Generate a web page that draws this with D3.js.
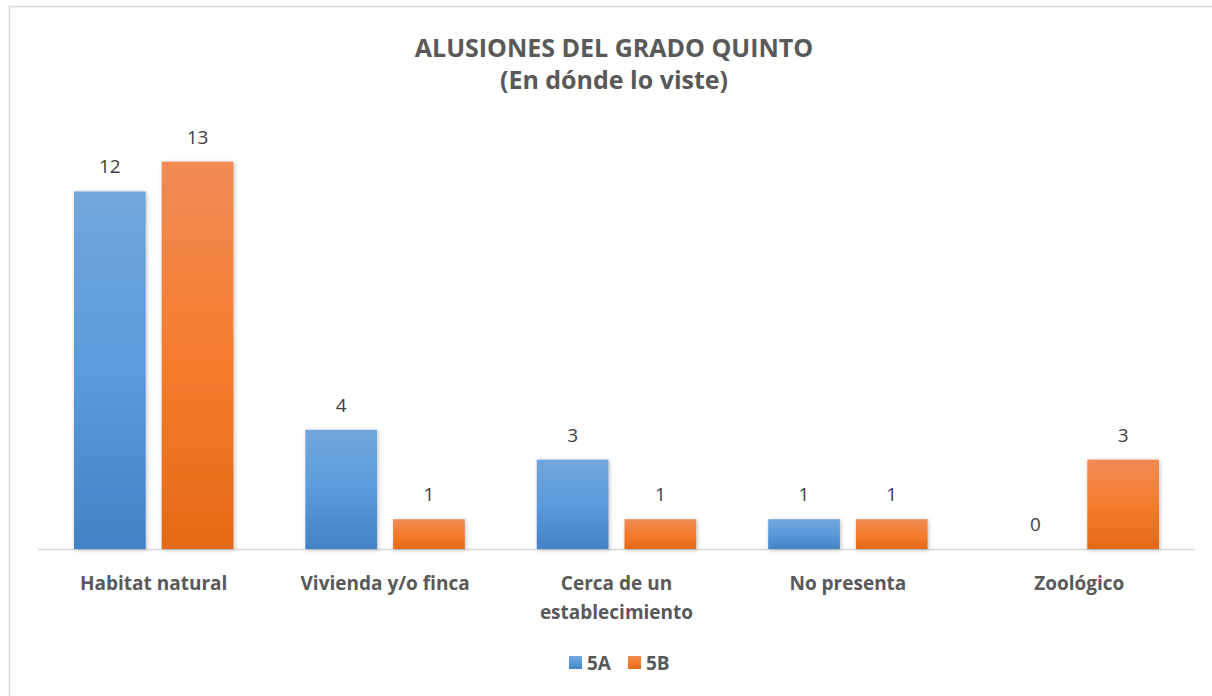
<!DOCTYPE html>
<html>
<head>
<meta charset="utf-8">
<script src="https://cdn.jsdelivr.net/npm/d3@7"></script>
<style>
  body { margin: 0; background: #fff; }
  text { font-family: "Open Sans", "Liberation Sans", sans-serif; }
</style>
</head>
<body>
<script>
// datos
var categories = ["Habitat natural", "Vivienda y/o finca", "Cerca de un establecimiento", "No presenta", "Zoológico"];
var series = ["5A", "5B"];
var values5A = [12, 4, 3, 1, 0];
var values5B = [13, 1, 1, 1, 3];
var titleLines = ["ALUSIONES DEL GRADO QUINTO", "(En dónde lo viste)"];

var width = 1212, height = 696;
var plot = {left: 38, right: 1195, bottom: 549};

var colors = {
  "5A": ["#71a7dc", "#5a9bdb", "#4283c5"],
  "5B": ["#f08b56", "#f47d2d", "#e46915"]
};

var data = categories.map(function(c, i) {
  return {cat: c, "5A": values5A[i], "5B": values5B[i]};
});

var svg = d3.select("body").append("svg")
  .attr("width", width)
  .attr("height", height);

var defs = svg.append("defs");
series.forEach(function(s) {
  var g = defs.append("linearGradient")
    .attr("id", "grad" + s)
    .attr("x1", 0).attr("y1", 0).attr("x2", 0).attr("y2", 1);
  colors[s].forEach(function(c, i) {
    g.append("stop").attr("offset", (i * 50) + "%").attr("stop-color", c);
  });
});
var shadow = defs.append("filter").attr("id", "shadow")
  .attr("x", "-20%").attr("y", "-20%").attr("width", "140%").attr("height", "140%");
shadow.append("feDropShadow")
  .attr("dx", 1).attr("dy", 1).attr("stdDeviation", 2)
  .attr("flood-color", "#000").attr("flood-opacity", 0.25);

// marco del grafico
svg.append("rect")
  .attr("x", 9.5).attr("y", 6.5)
  .attr("width", 1240).attr("height", 720)
  .attr("fill", "none")
  .attr("stroke", "#d9d9d9")
  .attr("stroke-width", 1.5);

// titulo
svg.selectAll("text.title")
  .data(titleLines)
  .enter().append("text")
  .attr("class", "title")
  .attr("x", 614)
  .attr("y", function(d, i) { return 57 + i * 32; })
  .attr("text-anchor", "middle")
  .attr("fill", "#595959")
  .attr("font-size", "25px")
  .attr("font-weight", "bold")
  .text(function(d) { return d; });

var x0 = d3.scaleBand().domain(categories).range([plot.left, plot.right]);
var x1 = d3.scaleBand().domain(series).range([0, x0.bandwidth()])
  .paddingInner(0.182).paddingOuter(0.41);
var y = d3.scaleLinear().domain([0, 14]).range([plot.bottom, plot.bottom - 14 * 29.8]);

// eje x
svg.append("line")
  .attr("x1", plot.left).attr("x2", plot.right)
  .attr("y1", plot.bottom + 0.5).attr("y2", plot.bottom + 0.5)
  .attr("stroke", "#d9d9d9").attr("stroke-width", 1.5);

var groups = svg.selectAll("g.group")
  .data(data)
  .enter().append("g")
  .attr("class", "group")
  .attr("transform", function(d) { return "translate(" + x0(d.cat) + ",0)"; });

var bars = groups.selectAll("g.bar")
  .data(function(d) { return series.map(function(s) { return {s: s, v: d[s]}; }); })
  .enter().append("g").attr("class", "bar");

bars.filter(function(d) { return d.v > 0; })
  .append("rect")
  .attr("x", function(d) { return x1(d.s); })
  .attr("width", x1.bandwidth())
  .attr("y", function(d) { return y(d.v); })
  .attr("height", function(d) { return y(0) - y(d.v); })
  .attr("fill", function(d) { return "url(#grad" + d.s + ")"; })
  .attr("filter", "url(#shadow)");

bars.append("text")
  .attr("x", function(d) { return x1(d.s) + x1.bandwidth() / 2; })
  .attr("y", function(d) { return y(d.v) - 18; })
  .attr("text-anchor", "middle")
  .attr("fill", "#404040")
  .attr("font-size", "19px")
  .text(function(d) { return d.v; });

// etiquetas de categoria
var labelLines = {"Cerca de un establecimiento": ["Cerca de un", "establecimiento"]};
groups.append("text")
  .attr("x", x0.bandwidth() / 2)
  .attr("y", 590)
  .attr("text-anchor", "middle")
  .attr("fill", "#595959")
  .attr("font-size", "19px")
  .attr("font-weight", "bold")
  .each(function(d) {
    var lines = labelLines[d.cat] || [d.cat];
    var t = d3.select(this);
    lines.forEach(function(l, i) {
      t.append("tspan")
        .attr("x", x0.bandwidth() / 2)
        .attr("dy", i === 0 ? 0 : 29)
        .text(l);
    });
  });

// leyenda
var legend = svg.append("g");
var legendX = [569, 628];
series.forEach(function(s, i) {
  legend.append("rect")
    .attr("x", legendX[i]).attr("y", 656)
    .attr("width", 13).attr("height", 13)
    .attr("fill", "url(#grad" + s + ")");
  legend.append("text")
    .attr("x", legendX[i] + 18).attr("y", 670)
    .attr("fill", "#595959")
    .attr("font-size", "19px")
    .attr("font-weight", "bold")
    .text(s);
});
</script>
</body>
</html>
